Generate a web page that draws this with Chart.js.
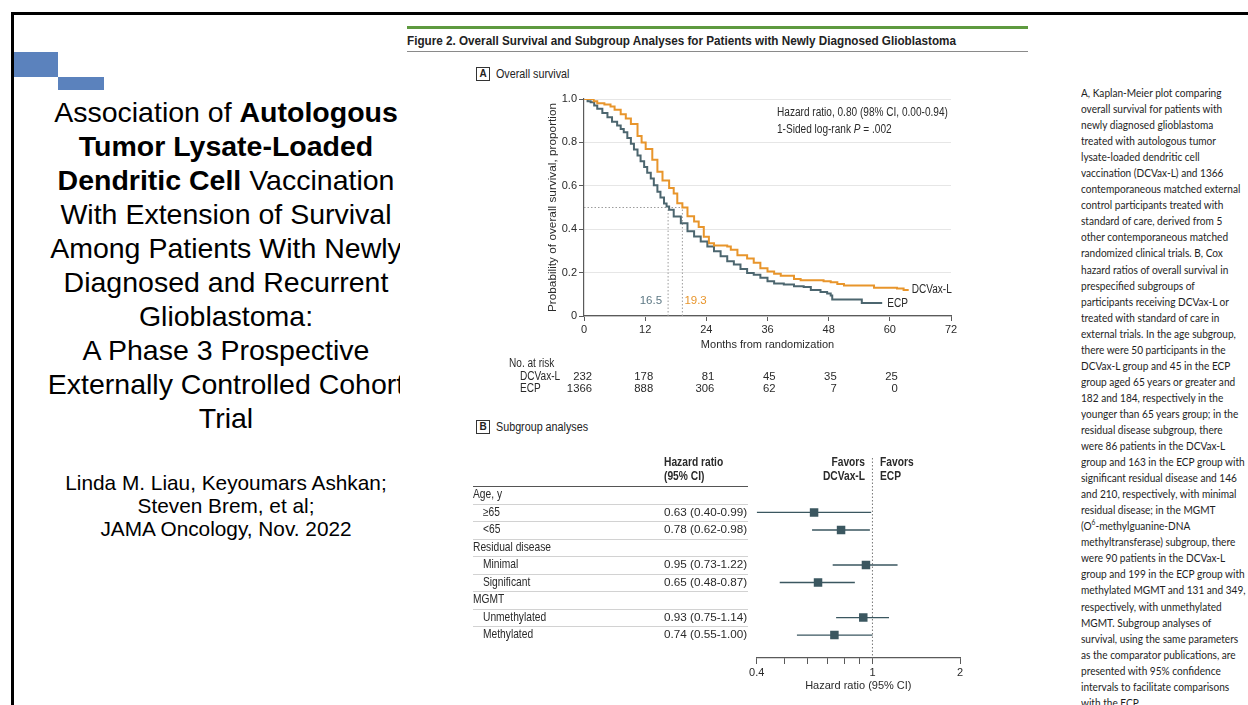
<!DOCTYPE html>
<html>
<head>
<meta charset="utf-8">
<script src="https://cdn.jsdelivr.net/npm/chart.js@4.4.1/dist/chart.umd.min.js"></script>
<style>
  html,body{margin:0;padding:0;background:#fff;}
  body{width:1248px;height:705px;position:relative;overflow:hidden;}
  .abs{position:absolute;}
  .fig{font-family:'Liberation Sans',Arial,sans-serif;color:#222;white-space:nowrap;transform-origin:0 50%;}
  .box{position:absolute;width:12px;height:12px;border:1px solid #333;font:bold 10px 'Liberation Sans',Arial,sans-serif;text-align:center;line-height:12px;color:#222;}
  #titleClip{position:absolute;left:14px;top:0;width:386px;height:705px;overflow:hidden;}
  #title{position:absolute;left:0;top:95px;width:424px;text-align:center;font-family:'Liberation Sans',Arial,sans-serif;font-size:28.5px;line-height:34px;color:#000;white-space:nowrap;}
  #authors{position:absolute;left:0;top:471px;width:424px;text-align:center;font-family:'Liberation Sans',Arial,sans-serif;font-size:20.8px;line-height:23px;color:#000;white-space:nowrap;}
  #caption{position:absolute;left:1081px;top:85px;width:179px;height:620px;overflow:hidden;font-family:Lato,'Open Sans',sans-serif;font-size:10.8px;line-height:16.05px;color:#1e1e1e;white-space:pre;transform:scaleX(0.935);transform-origin:0 0;}
  canvas{position:absolute;}
</style>
</head>
<body>
<div class="abs" style="left:11px;top:12px;width:1237px;height:3px;background:#000"></div>
<div class="abs" style="left:11px;top:12px;width:3px;height:693px;background:#000"></div>
<div class="abs" style="left:14px;top:52px;width:44px;height:25px;background:#5b82bd"></div>
<div class="abs" style="left:58px;top:77px;width:46px;height:13px;background:#5b82bd"></div>

<div id="titleClip">
  <div id="title">Association of <b>Autologous</b><br><b>Tumor Lysate-Loaded</b><br><b>Dendritic Cell</b> Vaccination<br>With Extension of Survival<br>Among Patients With Newly<br>Diagnosed and Recurrent<br>Glioblastoma:<br>A Phase 3 Prospective<br>Externally Controlled Cohort<br>Trial</div>
  <div id="authors">Linda M. Liau, Keyoumars Ashkan;<br>Steven Brem, et al;<br>JAMA Oncology, Nov. 2022</div>
</div>

<div class="abs" style="left:407px;top:26px;width:621px;height:3px;background:#5e9a3f"></div>
<div class="abs fig" style="left:407px;top:33px;font-size:13px;font-weight:bold;line-height:16px;transform:scaleX(0.9);">Figure 2. Overall Survival and Subgroup Analyses for Patients with Newly Diagnosed Glioblastoma</div>
<div class="abs" style="left:407px;top:51px;width:621px;height:1px;background:#8a8a8a"></div>

<div class="box" style="left:476px;top:67px;">A</div>
<div class="abs fig" style="left:496px;top:67px;font-size:12.5px;line-height:14px;transform:scaleX(0.86);">Overall survival</div>
<div class="box" style="left:476px;top:420px;">B</div>
<div class="abs fig" style="left:496px;top:420px;font-size:12.5px;line-height:14px;transform:scaleX(0.86);">Subgroup analyses</div>

<canvas id="km" width="470" height="315" style="left:500px;top:85px;"></canvas>
<canvas id="forest" width="520" height="265" style="left:460px;top:440px;"></canvas>

<div id="caption">A, Kaplan-Meier plot comparing
overall survival for patients with
newly diagnosed glioblastoma
treated with autologous tumor
lysate-loaded dendritic cell
vaccination (DCVax-L) and 1366
contemporaneous matched external
control participants treated with
standard of care, derived from 5
other contemporaneous matched
randomized clinical trials. B, Cox
hazard ratios of overall survival in
prespecified subgroups of
participants receiving DCVax-L or
treated with standard of care in
external trials. In the age subgroup,
there were 50 participants in the
DCVax-L group and 45 in the ECP
group aged 65 years or greater and
182 and 184, respectively in the
younger than 65 years group; in the
residual disease subgroup, there
were 86 patients in the DCVax-L
group and 163 in the ECP group with
significant residual disease and 146
and 210, respectively, with minimal
residual disease; in the MGMT
(O<sup style="font-size:7px;line-height:0">6</sup>-methylguanine-DNA
methyltransferase) subgroup, there
were 90 patients in the DCVax-L
group and 199 in the ECP group with
methylated MGMT and 131 and 349,
respectively, with unmethylated
MGMT. Subgroup analyses of
survival, using the same parameters
as the comparator publications, are
presented with 95% confidence
intervals to facilitate comparisons
with the ECP.</div>

<script>
// ---------- Data: Kaplan-Meier ----------
const dcvaxTime = [0, 1.9, 2.6, 4.0, 5.2, 6.0, 7.2, 8.2, 9.2, 10.5, 11.3, 12.1, 13.4, 14.4, 15.4, 16.7, 17.6, 18.3, 19.3, 20.3, 21.6, 22.5, 23.5, 24.5, 25.5, 28.1, 28.8, 30.1, 32.0, 33.3, 34.6, 36.0, 37.3, 38.6, 41.2, 42.5, 47.0, 48.4, 49.7, 51.0, 56.9, 61.4, 62.7, 63.7];
const dcvaxSurv = [1.0, 0.99, 0.98, 0.975, 0.965, 0.95, 0.93, 0.91, 0.885, 0.83, 0.80, 0.77, 0.72, 0.665, 0.625, 0.59, 0.565, 0.52, 0.50, 0.46, 0.435, 0.41, 0.365, 0.335, 0.325, 0.32, 0.305, 0.28, 0.265, 0.245, 0.22, 0.205, 0.195, 0.185, 0.17, 0.165, 0.16, 0.155, 0.148, 0.14, 0.13, 0.127, 0.12, 0.12];
const ecpTime = [0, 0.7, 1.3, 2.0, 2.6, 3.6, 4.6, 5.5, 6.5, 7.2, 7.8, 8.5, 9.2, 9.8, 10.5, 11.1, 11.8, 12.4, 13.1, 13.7, 14.4, 15.0, 15.7, 16.2, 16.7, 17.6, 19.0, 20.3, 21.6, 22.9, 24.2, 25.5, 26.8, 28.1, 29.4, 30.7, 32.0, 33.3, 34.6, 36.0, 37.3, 39.2, 41.2, 43.1, 44.5, 46.4, 47.7, 48.4, 48.7, 54.5, 58.5];
const ecpSurv = [1.0, 0.99, 0.985, 0.97, 0.955, 0.935, 0.916, 0.895, 0.878, 0.862, 0.847, 0.82, 0.794, 0.767, 0.74, 0.713, 0.687, 0.66, 0.634, 0.603, 0.573, 0.546, 0.519, 0.505, 0.49, 0.458, 0.427, 0.39, 0.366, 0.343, 0.32, 0.298, 0.275, 0.252, 0.237, 0.217, 0.198, 0.19, 0.176, 0.16, 0.15, 0.145, 0.137, 0.134, 0.12, 0.111, 0.104, 0.095, 0.076, 0.06, 0.06];
const seriesNames = ['DCVax-L', 'ECP'];
const medianMonths = [16.5, 19.3]; // ECP, DCVax-L
const xTickMonths = [0, 12, 24, 36, 48, 60, 72];
const yTickValues = [0, 0.2, 0.4, 0.6, 0.8, 1.0];
const riskTimes = [0, 12, 24, 36, 48, 60];
const riskDCVax = [232, 178, 81, 45, 35, 25];
const riskECP = [1366, 888, 306, 62, 7, 0];
const hrAnnotation = 'Hazard ratio, 0.80 (98% CI, 0.00-0.94)';
const pAnnotation = ['1-Sided log-rank ', 'P', ' = .002'];

// ---------- Data: forest plot ----------
const groupLabels = ['Age, y', 'Residual disease', 'MGMT'];
const subgroupLabels = ['≥65', '<65', 'Minimal', 'Significant', 'Unmethylated', 'Methylated'];
const hazardRatio = [0.63, 0.78, 0.95, 0.65, 0.93, 0.74];
const ciLow = [0.40, 0.62, 0.73, 0.48, 0.75, 0.55];
const ciHigh = [0.99, 0.98, 1.22, 0.87, 1.14, 1.00];
const forestTicks = [0.4, 0.5, 0.6, 0.7, 0.8, 0.9, 1, 2];
const forestLabeledTicks = [0.4, 1, 2];

// ---------- Styles ----------
const FF = "'Liberation Sans',Arial,sans-serif";
const TXT = '#2a2a2a';
const ORANGE = '#e8952b';
const SLATE = '#4c666f';
const FOREST = '#3b5760';
const AXIS = '#5a5a5a';
const SX = 0.84; // horizontal condensation for figure labels

Chart.defaults.font.family = FF;
Chart.defaults.font.size = 11;
Chart.defaults.color = TXT;

// draw condensed text; returns drawn width
function cText(ctx, text, x, y, align, font, sx) {
  sx = sx || SX;
  ctx.save();
  ctx.font = font;
  ctx.textAlign = align;
  ctx.textBaseline = 'middle';
  ctx.translate(x, y);
  ctx.scale(sx, 1);
  ctx.fillText(text, 0, 0);
  const w = ctx.measureText(text).width * sx;
  ctx.restore();
  return w;
}

// ---------- Kaplan-Meier chart ----------
const kmPlugin = {
  id: 'kmText',
  afterDraw(chart) {
    const {ctx, chartArea, scales: {x, y}} = chart;
    ctx.save();
    ctx.fillStyle = TXT;
    const F = `12px ${FF}`;
    // annotation
    const ax = chartArea.left + 193;
    cText(ctx, hrAnnotation, ax, chartArea.top + 14, 'left', F);
    let px = ax;
    const py = chartArea.top + 31;
    pAnnotation.forEach((s, i) => {
      px += cText(ctx, s, px, py, 'left', (i === 1 ? 'italic ' : '') + F);
    });
    // series end labels
    const dEnd = dcvaxTime.length - 1, eEnd = ecpTime.length - 1;
    cText(ctx, seriesNames[0], x.getPixelForValue(dcvaxTime[dEnd]) + 3, y.getPixelForValue(dcvaxSurv[dEnd]), 'left', F);
    cText(ctx, seriesNames[1], x.getPixelForValue(ecpTime[eEnd]) + 5, y.getPixelForValue(ecpSurv[eEnd]) + 1, 'left', F);
    // median labels
    const my = y.getPixelForValue(0.07);
    ctx.fillStyle = '#5d7884';
    cText(ctx, String(medianMonths[0]), x.getPixelForValue(medianMonths[0]) - 6, my, 'right', `11.5px ${FF}`, 1);
    ctx.fillStyle = ORANGE;
    cText(ctx, String(medianMonths[1]), x.getPixelForValue(medianMonths[1]) + 2, my, 'left', `11.5px ${FF}`, 1);
    // number at risk table
    ctx.fillStyle = TXT;
    cText(ctx, 'No. at risk', 9, 279, 'left', F);
    cText(ctx, seriesNames[0], 20, 292, 'left', F);
    cText(ctx, seriesNames[1], 20, 304, 'left', F);
    riskTimes.forEach((t, i) => {
      const tx = x.getPixelForValue(t) + 8;
      cText(ctx, String(riskDCVax[i]), tx, 292, 'right', `11.3px ${FF}`, 1);
      cText(ctx, String(riskECP[i]), tx, 304, 'right', `11.3px ${FF}`, 1);
    });
    ctx.restore();
  }
};

const guide = (pts) => ({
  data: pts, borderColor: '#9c9c9c', borderWidth: 1, borderDash: [1.5, 2],
  pointRadius: 0, fill: false, stepped: false
});

new Chart(document.getElementById('km'), {
  type: 'line',
  data: {
    datasets: [
      { label: seriesNames[0], data: dcvaxTime.map((t, i) => ({x: t, y: dcvaxSurv[i]})),
        borderColor: ORANGE, borderWidth: 2, stepped: 'before', pointRadius: 0, fill: false },
      { label: seriesNames[1], data: ecpTime.map((t, i) => ({x: t, y: ecpSurv[i]})),
        borderColor: SLATE, borderWidth: 2, stepped: 'before', pointRadius: 0, fill: false },
      guide([{x: 0, y: 0.5}, {x: medianMonths[1], y: 0.5}]),
      guide([{x: medianMonths[0], y: 0}, {x: medianMonths[0], y: 0.5}]),
      guide([{x: medianMonths[1], y: 0}, {x: medianMonths[1], y: 0.5}])
    ]
  },
  options: {
    responsive: false, animation: false, devicePixelRatio: 1,
    layout: { padding: { left: 42, top: 14, right: 19, bottom: 44 } },
    plugins: { legend: { display: false }, tooltip: { enabled: false } },
    scales: {
      x: {
        type: 'linear', min: 0, max: 72,
        afterBuildTicks: s => { s.ticks = xTickMonths.map(v => ({value: v})); },
        ticks: { color: TXT, padding: 2, autoSkip: false, maxRotation: 0, font: { size: 11 } },
        grid: { drawOnChartArea: false, tickLength: 5, tickColor: AXIS },
        border: { color: AXIS, width: 1.2 },
        title: { display: true, text: 'Months from randomization', color: TXT, font: { size: 11 } },
        afterFit: s => { s.height = 40; }
      },
      y: {
        type: 'linear', min: 0, max: 1,
        afterBuildTicks: s => { s.ticks = yTickValues.map(v => ({value: v})); },
        ticks: { color: TXT, padding: 2, font: { size: 11 }, callback: v => v === 0 ? '0' : v.toFixed(1) },
        grid: { color: '#e6e6e6', tickLength: 5, tickColor: AXIS },
        border: { color: AXIS, width: 1.2 },
        title: { display: true, text: 'Probability of overall survival, proportion', color: TXT, font: { size: 11.8 } },
        afterFit: s => { s.width = 42; }
      }
    }
  },
  plugins: [kmPlugin]
});

// ---------- Forest plot ----------
const subRow = i => Math.floor(i / 2) * 3 + 1 + (i % 2);
const groupRow = g => g * 3;
const Y_MIN = -2.11, Y_MAX = 9.31;

const forestPlugin = {
  id: 'forestTable',
  beforeDatasetsDraw(chart) {
    const {ctx, scales: {y}} = chart;
    ctx.save();
    // separators
    ctx.strokeStyle = '#d2d2d2';
    ctx.lineWidth = 1;
    for (let r = 0; r < 8; r++) {
      const yy = Math.round(y.getPixelForValue(r + 0.5)) + 0.5;
      ctx.beginPath(); ctx.moveTo(13, yy); ctx.lineTo(288, yy); ctx.stroke();
    }
    ctx.strokeStyle = '#555';
    const hy = Math.round(y.getPixelForValue(-0.5)) + 0.5;
    ctx.beginPath(); ctx.moveTo(13, hy); ctx.lineTo(288, hy); ctx.stroke();
    // text
    ctx.fillStyle = TXT;
    const F = `12.2px ${FF}`;
    const FB = `bold 12.2px ${FF}`;
    groupLabels.forEach((g, i) => cText(ctx, g, 13, y.getPixelForValue(groupRow(i)), 'left', F));
    subgroupLabels.forEach((s, i) => {
      const yy = y.getPixelForValue(subRow(i));
      cText(ctx, s, 23, yy, 'left', F);
      cText(ctx, `${hazardRatio[i].toFixed(2)} (${ciLow[i].toFixed(2)}-${ciHigh[i].toFixed(2)})`, 204, yy, 'left', `11.7px ${FF}`, 1);
    });
    cText(ctx, 'Hazard ratio', 204, 23, 'left', FB);
    cText(ctx, '(95% CI)', 204, 37, 'left', FB);
    cText(ctx, 'Favors', 405, 23, 'right', FB);
    cText(ctx, seriesNames[0], 405, 37, 'right', FB);
    cText(ctx, 'Favors', 420, 23, 'left', FB);
    cText(ctx, seriesNames[1], 420, 37, 'left', FB);
    ctx.restore();
  }
};

const ciPoints = [];
hazardRatio.forEach((v, i) => {
  ciPoints.push({x: ciLow[i], y: subRow(i)}, {x: ciHigh[i], y: subRow(i)}, {x: null, y: null});
});

new Chart(document.getElementById('forest'), {
  type: 'scatter',
  data: {
    datasets: [
      { data: hazardRatio.map((v, i) => ({x: v, y: subRow(i)})), pointStyle: 'rect',
        pointRadius: 6, backgroundColor: FOREST, borderWidth: 0 },
      { data: ciPoints, showLine: true, spanGaps: false, borderColor: FOREST, borderWidth: 1.3, pointRadius: 0 },
      { data: [{x: 1, y: Y_MIN}, {x: 1, y: Y_MAX}], showLine: true, borderColor: '#777',
        borderWidth: 1, borderDash: [1.5, 2], pointRadius: 0 }
    ]
  },
  options: {
    responsive: false, animation: false, devicePixelRatio: 1,
    layout: { padding: { left: 296.7, top: 18, right: 20, bottom: 8.4 } },
    plugins: { legend: { display: false }, tooltip: { enabled: false } },
    scales: {
      x: {
        type: 'logarithmic', min: 0.4, max: 2,
        afterBuildTicks: s => { s.ticks = forestTicks.map(v => ({value: v})); },
        ticks: { autoSkip: false, maxRotation: 0, color: TXT, padding: 2, font: { size: 11 },
          callback: v => forestLabeledTicks.some(t => Math.abs(t - v) < 1e-9) ? String(v) : '' },
        grid: { drawOnChartArea: false, tickLength: 6, tickColor: AXIS },
        border: { color: AXIS, width: 1.2 },
        title: { display: true, text: 'Hazard ratio (95% CI)', color: TXT, font: { size: 11 } },
        afterFit: s => { s.height = 38.6; }
      },
      y: { type: 'linear', reverse: true, min: Y_MIN, max: Y_MAX, display: false }
    }
  },
  plugins: [forestPlugin]
});
</script>
</body>
</html>
